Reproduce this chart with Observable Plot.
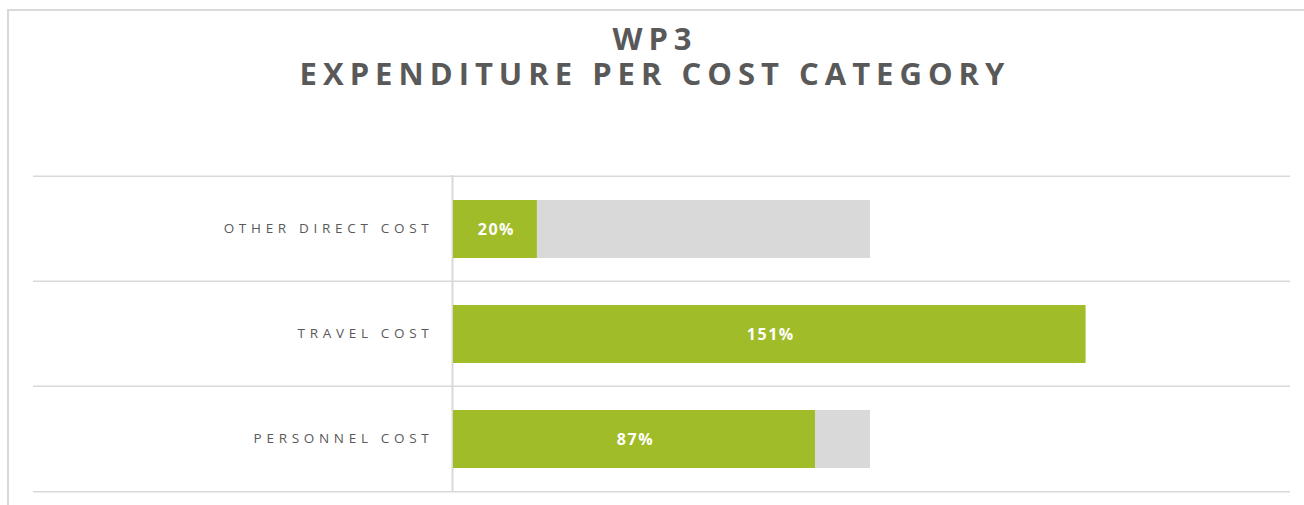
<!DOCTYPE html>
<html>
<head>
<meta charset="utf-8">
<script src="https://cdn.jsdelivr.net/npm/d3@7"></script>
<script src="https://cdn.jsdelivr.net/npm/@observablehq/plot@0.6"></script>
<style>
  html, body { margin: 0; padding: 0; background: #fff; width: 1304px; height: 505px; overflow: hidden; }
  #frame { position: absolute; left: 7px; top: 9px; width: 1400px; height: 600px;
           border-left: 2px solid #d9d9d9; border-top: 2px solid #d9d9d9; }
  #title { position: absolute; left: 0; top: 21px; width: 1304px; text-align: center; box-sizing: border-box;
           font-family: "Open Sans", sans-serif; font-weight: 700; color: #595959; white-space: nowrap;
           font-size: 31px; letter-spacing: 6px; padding-left: 6px; line-height: 35px; }
  #chart { position: absolute; left: 0; top: 150px; }
</style>
</head>
<body>
<div id="frame"></div>
<div id="title">WP3<br>EXPENDITURE PER COST CATEGORY</div>
<div id="chart"></div>
<script>
const categories = ["OTHER DIRECT COST", "TRAVEL COST", "PERSONNEL COST"];
const spent = [20.1, 151.7, 86.8];
const budget = [100, 100, 100];
const valueLabels = ["20%", "151%", "87%"];

const data = categories.map((c, i) => ({category: c, spent: spent[i], budget: budget[i], label: valueLabels[i]}));

const H = 355, MT = 25, MB = 13;
const step = (H - MT - MB) / categories.length;

const plot = Plot.plot({
  width: 1304,
  height: H,
  marginTop: MT,
  marginBottom: MB,
  marginLeft: 33,
  marginRight: 14,
  x: {domain: [0, 200], range: [453, 1287], axis: null},
  y: {domain: categories, padding: 0, axis: null},
  style: {background: "transparent"},
  marks: [
    Plot.ruleY(categories, {y: d => d, dy: -step / 2, stroke: "#d9d9d9", strokeWidth: 1.5}),
    Plot.ruleY(categories.slice(-1), {y: d => d, dy: step / 2, stroke: "#d9d9d9", strokeWidth: 1.5}),
    Plot.ruleX([0], {stroke: "#d9d9d9", strokeWidth: 2, dx: -1}),
    Plot.barX(data, {x1: 0, x2: "budget", y: "category", fill: "#d9d9d9", insetTop: 24, insetBottom: 23}),
    Plot.barX(data, {x1: 0, x2: "spent", y: "category", fill: "#a0bc28", insetTop: 24, insetBottom: 23}),
    Plot.text(data, {x: 0, y: "category", text: "category", textAnchor: "end", dx: -20,
      fill: "#595959", fontSize: 13.5, fontFamily: "Open Sans"}),
    Plot.text(data, {x: d => d.spent / 2, y: "category", text: "label", fill: "#ffffff",
      fontSize: 16, fontWeight: "bold", fontFamily: "Open Sans", dx: 1, dy: 1})
  ]
});
plot.querySelectorAll("text").forEach(t => {
  if (/[A-Z]/.test(t.textContent)) t.style.letterSpacing = "4.7px";
  else t.style.letterSpacing = "1.5px";
});
document.getElementById("chart").appendChild(plot);
</script>
</body>
</html>
